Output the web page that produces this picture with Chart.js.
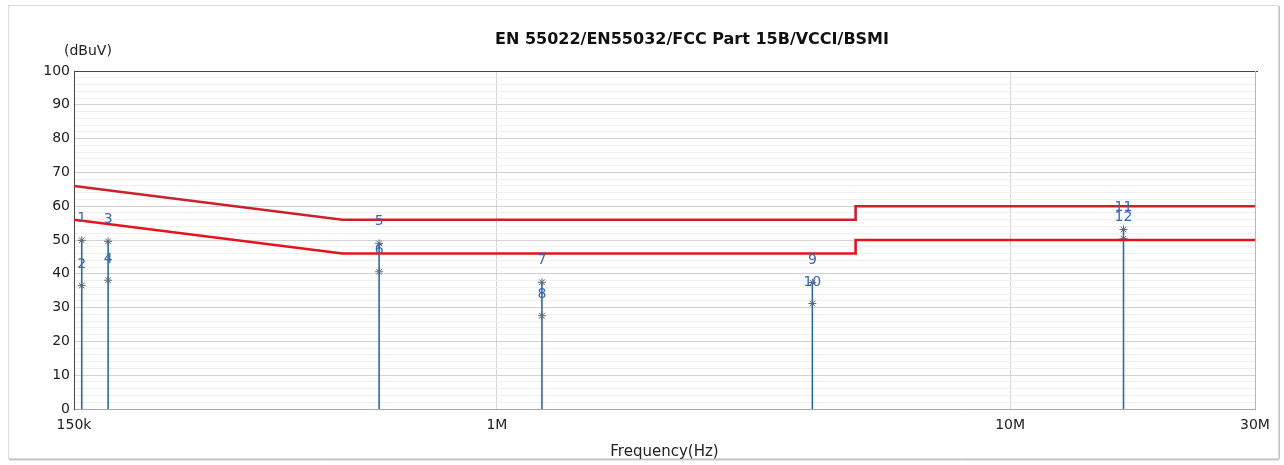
<!DOCTYPE html>
<html>
<head>
<meta charset="utf-8">
<script src="https://cdn.jsdelivr.net/npm/chart.js@4.4.1/dist/chart.umd.min.js"></script>
<style>
    html, body { margin: 0; padding: 0; background: #fff; }
    #wrap { width: 1284px; height: 465px; }
</style>
</head>
<body>
<div id="wrap"><canvas id="emiChart" width="1284" height="465"></canvas></div>
<script>

// peak readings (Hz / dBuV)
var markerFreqs = [155300, 174800, 589600, 1224000, 4118000, 16630000];
var qpValues = [49.9, 49.6, 49.0, 37.5, 37.4, 53.1];
var avValues = [36.5, 38.1, 40.6, 27.6, 31.2, 50.4];
var qpLabels = ["1", "3", "5", "7", "9", "11"];
var avLabels = ["2", "4", "6", "8", "10", "12"];

// limit lines
var limitFreqs = [150000, 500000, 5000000, 5000000, 30000000];
var qpLimit = [66, 56, 56, 60, 60];
var avLimit = [56, 46, 46, 50, 50];

// axis ticks
var xTicks = [150000, 1000000, 10000000, 30000000];
var xTickLabels = ["150k", "1M", "10M", "30M"];

var FONT = "'DejaVu Sans', sans-serif";

function toPoints(xs, ys) {
    return xs.map(function (x, i) {
        return { x: x, y: ys[i] };
    });
}

var datasets = [];

// =========================================
// LIMIT LINES
// =========================================

datasets.push({
    label: "QP limit",
    data: toPoints(limitFreqs, qpLimit),
    showLine: true,
    borderColor: "#c9222b",
    borderWidth: 2.6,
    pointRadius: 0,
    order: 0
});

datasets.push({
    label: "AV limit",
    data: toPoints(limitFreqs, avLimit),
    showLine: true,
    borderColor: "#e5141c",
    borderWidth: 2.6,
    pointRadius: 0,
    order: 0
});

// =========================================
// MARKER STEMS
// =========================================

markerFreqs.forEach(function (f, i) {
    datasets.push({
        label: "stem" + i,
        data: [{ x: f, y: 0 }, { x: f, y: Math.max(qpValues[i], avValues[i]) }],
        showLine: true,
        borderColor: "#2b6c9e",
        borderWidth: 1.6,
        pointRadius: 0,
        order: 2
    });
});

datasets.push({
    label: "readings",
    data: toPoints(markerFreqs, qpValues).concat(toPoints(markerFreqs, avValues)),
    showLine: false,
    pointStyle: "star",
    pointRadius: 4,
    borderColor: "#5a6878",
    borderWidth: 1,
    backgroundColor: "transparent",
    order: 1
});

// =========================================
// DECORATION PLUGIN
// =========================================

var decoPlugin = {
    id: "deco",
    beforeDraw: function (chart) {
        var ctx = chart.ctx;
        ctx.save();
        ctx.fillStyle = "#fff";
        ctx.fillRect(0, 0, chart.width, chart.height);
        // panel frame
        ctx.strokeStyle = "#dcdcdc";
        ctx.lineWidth = 1;
        ctx.strokeRect(8.5, 5.5, 1270, 453);
        ctx.strokeStyle = "#c4c4c4";
        ctx.beginPath();
        ctx.moveTo(9, 459.5);
        ctx.lineTo(1279, 459.5);
        ctx.moveTo(1279.5, 6);
        ctx.lineTo(1279.5, 459);
        ctx.stroke();
        ctx.strokeStyle = "#e6e6e6";
        ctx.beginPath();
        ctx.moveTo(10, 460.5);
        ctx.lineTo(1280, 460.5);
        ctx.stroke();
        ctx.restore();
    },
    afterDraw: function (chart) {
        var ctx = chart.ctx;
        var area = chart.chartArea;
        var xs = chart.scales.x;
        var ys = chart.scales.y;

        ctx.save();

        // plot frame top / right
        ctx.strokeStyle = "#444";
        ctx.lineWidth = 1;
        ctx.beginPath();
        ctx.moveTo(area.left, Math.round(area.top) + 0.5);
        ctx.lineTo(area.right + 3, Math.round(area.top) + 0.5);
        ctx.stroke();
        ctx.strokeStyle = "#b8b8b8";
        ctx.beginPath();
        ctx.moveTo(Math.round(area.right) + 0.5, area.top);
        ctx.lineTo(Math.round(area.right) + 0.5, area.bottom);
        ctx.stroke();

        // title
        ctx.fillStyle = "#111";
        ctx.font = "bold 16px " + FONT;
        ctx.textAlign = "center";
        ctx.textBaseline = "middle";
        ctx.fillText("EN 55022/EN55032/FCC Part 15B/VCCI/BSMI", 692, 40);

        // unit
        ctx.font = "14px " + FONT;
        ctx.fillStyle = "#222";
        ctx.textAlign = "left";
        ctx.fillText("(dBuV)", 64, 51);

        // marker numbers
        ctx.font = "14px " + FONT;
        ctx.fillStyle = "#3a66b5";
        ctx.textAlign = "center";
        ctx.textBaseline = "middle";
        markerFreqs.forEach(function (f, i) {
            var px = xs.getPixelForValue(f);
            ctx.fillText(qpLabels[i], px, ys.getPixelForValue(qpValues[i]) - 22);
            ctx.fillText(avLabels[i], px, ys.getPixelForValue(avValues[i]) - 21);
        });

        ctx.restore();
    }
};

// =========================================
// CHART
// =========================================

new Chart(document.getElementById("emiChart"), {
    type: "scatter",
    data: { datasets: datasets },
    plugins: [decoPlugin],
    options: {
        responsive: false,
        animation: false,
        devicePixelRatio: 1,
        layout: {
            padding: { left: 0, right: 29, top: 71, bottom: 0 }
        },
        plugins: {
            legend: { display: false },
            tooltip: { enabled: false }
        },
        scales: {
            x: {
                type: "logarithmic",
                min: 150000,
                max: 30000000,
                afterBuildTicks: function (scale) {
                    scale.ticks = xTicks.map(function (v) { return { value: v }; });
                },
                afterFit: function (scale) {
                    scale.height = 56;
                },
                ticks: {
                    autoSkip: false,
                    maxRotation: 0,
                    padding: 8,
                    color: "#222",
                    font: { family: FONT, size: 14 },
                    callback: function (value) {
                        var idx = xTicks.indexOf(value);
                        return idx >= 0 ? xTickLabels[idx] : "";
                    }
                },
                grid: {
                    drawTicks: false,
                    color: function (c) {
                        if (!c.tick) return "transparent";
                        return (c.tick.value === 1000000 || c.tick.value === 10000000) ? "#d4d4d4" : "transparent";
                    }
                },
                border: { color: "#a8a8a8", width: 1 },
                title: {
                    display: true,
                    text: "Frequency(Hz)",
                    color: "#222",
                    font: { family: FONT, size: 15 },
                    padding: { top: 0, bottom: 4 }
                }
            },
            y: {
                min: 0,
                max: 100,
                afterFit: function (scale) {
                    scale.width = 74;
                },
                ticks: {
                    stepSize: 2,
                    autoSkip: false,
                    padding: 4,
                    color: "#222",
                    font: { family: FONT, size: 14 },
                    callback: function (value) {
                        return value % 10 === 0 ? String(value) : "";
                    }
                },
                grid: {
                    drawTicks: false,
                    color: function (c) {
                        if (!c.tick) return "transparent";
                        return c.tick.value % 10 === 0 ? "#d2d2d2" : "#f0f0f0";
                    }
                },
                border: { color: "#444", width: 1 }
            }
        }
    }
});

</script>
</body>
</html>
